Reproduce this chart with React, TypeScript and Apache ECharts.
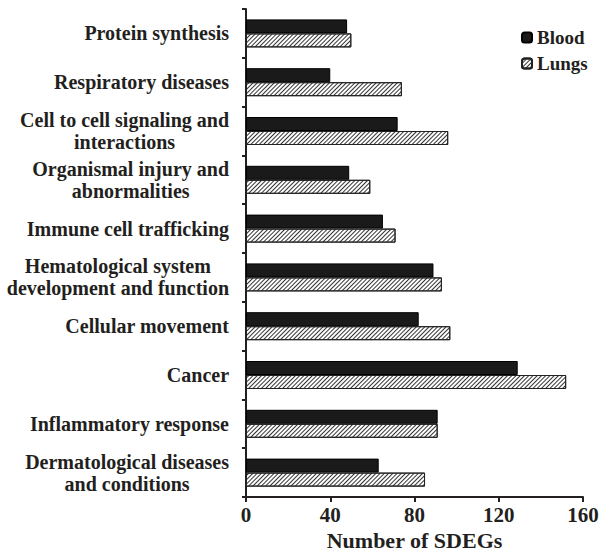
import React, { useEffect, useRef } from "react";
import * as echarts from "echarts";

const categories = [
  "Protein synthesis",
  "Respiratory diseases",
  "Cell to cell signaling and\ninteractions",
  "Organismal injury and\nabnormalities",
  "Immune cell trafficking",
  "Hematological system\ndevelopment and function",
  "Cellular movement",
  "Cancer",
  "Inflammatory response",
  "Dermatological diseases\nand conditions",
];
const bloodValues = [48, 40, 72, 49, 65, 89, 82, 129, 91, 63];
const lungsValues = [50, 74, 96, 59, 71, 93, 97, 152, 91, 85];
const xTicks = [0, 40, 80, 120, 160];

const FONT = "'Liberation Serif', 'Times New Roman', serif";
const INK = "#231f20";

export default function App() {
  const ref = useRef<HTMLDivElement>(null);
  useEffect(() => {
    if (!ref.current) return;
    const chart = echarts.init(ref.current, undefined, { renderer: "svg" });
    chart.setOption({
      animation: false,
      backgroundColor: "#fff",
      grid: { left: 246, right: 23, top: 9, bottom: 59, containLabel: false, outerBoundsMode: "none" },
      legend: {
        orient: "vertical",
        left: 521,
        top: 28,
        padding: 0,
        itemWidth: 10,
        itemHeight: 10,
        itemGap: 7,
        textStyle: { fontFamily: FONT, fontWeight: "bold", fontSize: 19, color: INK, lineHeight: 17 },
        data: ["Blood", "Lungs"],
      },
      xAxis: {
        type: "value",
        min: xTicks[0],
        max: xTicks[xTicks.length - 1],
        interval: 40,
        name: "Number of SDEGs",
        nameLocation: "middle",
        nameGap: 14,
        nameTextStyle: { fontFamily: FONT, fontWeight: "bold", fontSize: 22, color: INK },
        axisLine: { show: true, lineStyle: { color: INK, width: 2 } },
        axisTick: { show: true, length: 5, lineStyle: { color: INK, width: 2 } },
        axisLabel: { fontFamily: FONT, fontWeight: "bold", fontSize: 21, lineHeight: 15, color: INK, margin: 10 },
        splitLine: { show: false },
      },
      yAxis: {
        type: "category",
        inverse: true,
        data: categories,
        axisLine: { show: true, lineStyle: { color: INK, width: 2 } },
        axisTick: { show: true, length: 4, lineStyle: { color: INK, width: 2 } },
        axisLabel: {
          margin: 17,
          align: "right",
          formatter: (v: string) => v.split("\n").map((s) => `{c|${s}}`).join("\n"),
          rich: {
            c: {
              align: "center",
              fontFamily: FONT,
              fontWeight: "bold",
              fontSize: 20,
              color: INK,
              lineHeight: 22,
            },
          },
        },
      },
      series: [
        {
          name: "Blood",
          type: "bar",
          data: bloodValues,
          barWidth: 14,
          barGap: "0%",
          itemStyle: { color: "#1a1a1a", borderColor: "#000", borderWidth: 1 },
        },
        {
          name: "Lungs",
          type: "bar",
          data: lungsValues,
          barWidth: 14,
          itemStyle: {
            color: "#ffffff",
            borderColor: "#222",
            borderWidth: 1,
            decal: {
              symbol: "rect",
              symbolSize: 1,
              color: "#333",
              dashArrayX: [1, 0],
              dashArrayY: [1, 2],
              rotation: -Math.PI / 4,
            },
          },
        },
      ],
    });
    return () => chart.dispose();
  }, []);
  return (
    <div
      ref={ref}
      style={{ position: "absolute", left: 0, top: 0, width: 606, height: 556 }}
    />
  );
}
